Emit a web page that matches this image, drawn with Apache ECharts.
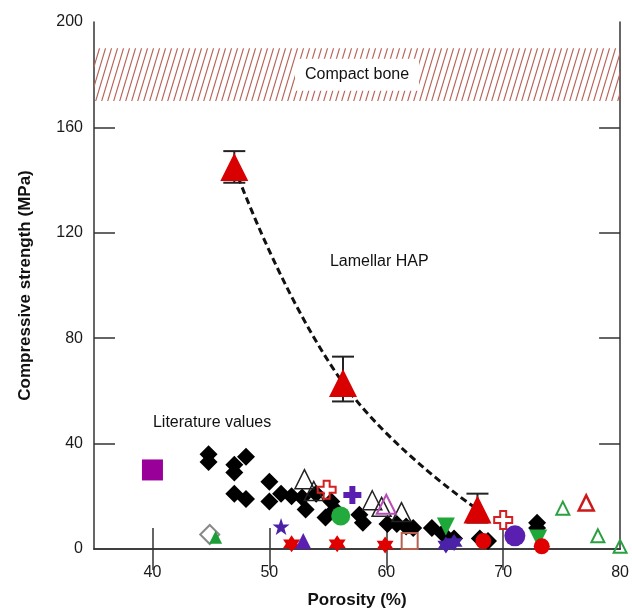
<!DOCTYPE html>
<html>
<head>
<meta charset="utf-8">
<script src="https://cdn.jsdelivr.net/npm/echarts@6/dist/echarts.min.js"></script>
<style>
  html, body { margin: 0; padding: 0; background: #fff; }
  #chart { width: 632px; height: 614px; }
</style>
</head>
<body>
<div id="chart"></div>
<script>
// tick labels
const xTicks = [40, 50, 60, 70, 80];
const yTicks = [0, 40, 80, 120, 160, 200];

// compact bone band (MPa)
const boneBand = [170, 190];

// lamellar HAP: [porosity, strength] and [porosity, low, high]
const lamellar = [[47, 145], [56.3, 63], [67.8, 15]];
const lamellarErr = [[47, 139, 151], [56.3, 56, 73], [67.8, 10, 21]];

// literature values
const blackDiamonds = [[44.8, 36], [44.8, 33], [47, 32], [47, 29], [48, 35], [47, 21], [48, 19],
  [50, 25.5], [50, 18], [51, 21], [51.9, 20], [52.8, 19.5], [53.1, 15], [54, 21], [55.3, 18],
  [54.8, 12], [55.6, 15], [57.7, 13], [58, 10], [60.1, 9.5], [60.9, 9.5], [61.7, 8.5], [62.3, 8],
  [63.9, 8], [64.8, 6], [65.8, 4], [68, 4], [68.7, 3], [72.9, 10], [72.9, 8]];
const openTriangles = [[53, 26.5], [53.8, 22], [58.8, 18.5], [59.6, 16], [61.3, 14]];
const magentaOpenTriangles = [[60, 17]];
const redOpenCross = [[54.9, 22.5], [70, 11]];
const purpleCross = [[57.1, 20.5]];
const greenCircle = [[56.1, 12.5]];
const purpleStar = [[51, 8.5]];
const redStars = [[51.9, 2], [55.8, 2], [59.9, 1.5]];
const purpleStars = [[65.1, 1.5], [65.8, 2.5]];
const purpleTriangle = [[52.9, 3]];
const openSquare = [[62, 3]];
const greenDownTriangles = [[65.1, 8.5], [73, 4]];
const redCircles = [[68.3, 3], [73.3, 1]];
const purpleCircle = [[71, 5]];
const greenOpenTriangles = [[75.1, 15.5], [78.1, 5], [80, 1]];
const redOpenTriangle = [[77.1, 17.5]];
const grayOpenDiamond = [[44.9, 5.5]];
const greenTriangle = [[45.4, 4.5]];
const magentaSquare = [[40, 30]];

// text annotations [x, y, text]
const notes = [[59.4, 109, 'Lamellar HAP'], [45.1, 48, 'Literature values']];

const star6 = 'path://M0,-10L2.9,-5L8.66,-5L5.8,0L8.66,5L2.9,5L0,10L-2.9,5L-8.66,5L-5.8,0L-8.66,-5L-2.9,-5Z';
const star5 = 'path://M0,-10L2.35,-3.1L9.5,-3.1L3.8,1.2L5.9,8.1L0,4L-5.9,8.1L-3.8,1.2L-9.5,-3.1L-2.35,-3.1Z';
const plus = 'path://M-3,-9L3,-9L3,-3L9,-3L9,3L3,3L3,9L-3,9L-3,3L-9,3L-9,-3L-3,-3Z';

// hatch pattern for the band
const hatch = document.createElement('canvas');
hatch.width = 6; hatch.height = 20;
const hctx = hatch.getContext('2d');
hctx.strokeStyle = '#b8655a';
hctx.lineWidth = 1.2;
hctx.beginPath();
[-6, 0, 6].forEach(function (dx) { hctx.moveTo(dx, 20); hctx.lineTo(dx + 6, 0); });
hctx.stroke();

const FONT = 'Liberation Sans, Arial, sans-serif';

function filled(name, data, symbol, size, color, extra) {
  return Object.assign({
    name: name, type: 'scatter', data: data, symbol: symbol, symbolSize: size,
    itemStyle: { color: color, opacity: 1 }
  }, extra || {});
}
function open(name, data, symbol, size, color, bw) {
  return {
    name: name, type: 'scatter', data: data, symbol: symbol, symbolSize: size,
    itemStyle: { color: 'rgba(255,255,255,0)', borderColor: color, borderWidth: bw || 1.5, opacity: 1 }
  };
}

const chart = echarts.init(document.getElementById('chart'));

const tickStyle = { inside: true, length: 21, lineStyle: { color: '#333', width: 1.5 } };
const lineStyle = { show: true, lineStyle: { color: '#333', width: 1.5 } };

chart.setOption({
  animation: false,
  backgroundColor: '#fff',
  grid: { left: 94, right: 10, top: 22, bottom: 65 },
  xAxis: [{
    type: 'value', min: 35, max: 80, position: 'bottom',
    name: 'Porosity (%)', nameLocation: 'middle', nameGap: 43,
    nameTextStyle: { fontFamily: FONT, fontSize: 17, fontWeight: 'bold', color: '#111' },
    axisLine: lineStyle, splitLine: { show: false },
    axisTick: Object.assign({ customValues: xTicks.slice(0, 4) }, tickStyle),
    axisLabel: { customValues: xTicks, margin: 16, fontFamily: FONT, fontSize: 16, color: '#1a1a1a' }
  }, {
    type: 'value', min: 35, max: 80, position: 'top',
    axisLine: lineStyle, splitLine: { show: false },
    axisTick: Object.assign({ customValues: xTicks.slice(0, 4) }, tickStyle),
    axisLabel: { show: false }
  }],
  yAxis: [{
    type: 'value', min: 0, max: 200, position: 'left',
    name: 'Compressive strength (MPa)', nameLocation: 'middle', nameGap: 60,
    nameTextStyle: { fontFamily: FONT, fontSize: 17, fontWeight: 'bold', color: '#111' },
    axisLine: lineStyle, splitLine: { show: false },
    axisTick: Object.assign({ customValues: yTicks.slice(1, 5) }, tickStyle),
    axisLabel: { customValues: yTicks, margin: 11, fontFamily: FONT, fontSize: 16, color: '#1a1a1a' }
  }, {
    type: 'value', min: 0, max: 200, position: 'right',
    axisLine: lineStyle, splitLine: { show: false },
    axisTick: Object.assign({ customValues: yTicks.slice(1, 5) }, tickStyle),
    axisLabel: { show: false }
  }],
  series: [
    {
      name: 'band', type: 'line', data: [], silent: true,
      markArea: {
        silent: true,
        itemStyle: { color: { image: hatch, repeat: 'repeat' }, opacity: 1 },
        label: {
          show: true, position: 'inside', formatter: 'Compact bone',
          backgroundColor: '#fff', padding: [8, 10],
          fontFamily: FONT, fontSize: 16, color: '#111'
        },
        data: [[{ yAxis: boneBand[0] }, { yAxis: boneBand[1] }]]
      }
    },
    {
      name: 'notes', type: 'scatter', symbolSize: 0, silent: true,
      data: notes.map(function (n) { return { value: [n[0], n[1]], name: n[2] }; }),
      label: {
        show: true, position: 'inside', formatter: '{b}',
        fontFamily: FONT, fontSize: 16, color: '#111'
      },
      itemStyle: { opacity: 1 }
    },
    filled('magenta square', magentaSquare, 'rect', 21, '#990099'),
    open('gray diamond', grayOpenDiamond, 'diamond', 19, '#888', 2),
    filled('green triangle', greenTriangle, 'triangle', 13, '#1a9e35'),
    filled('black diamonds', blackDiamonds, 'diamond', 18, '#000'),
    open('open triangles', openTriangles, 'triangle', 19, '#222', 1.5),
    open('magenta triangles', magentaOpenTriangles, 'triangle', 19, '#b84cb8', 2),
    open('red cross', redOpenCross, plus, 18, '#d42020', 2),
    filled('purple cross', purpleCross, plus, 18, '#5a1fb0'),
    filled('green circle', greenCircle, 'circle', 19, '#22aa3c'),
    filled('purple star', purpleStar, star5, 17, '#4a22a8'),
    filled('red stars', redStars, star6, 17, '#e00000'),
    filled('purple stars', purpleStars, star6, 17, '#4a22a8'),
    filled('purple triangle', purpleTriangle, 'triangle', 16, '#5a1fb0'),
    open('open square', openSquare, 'rect', 16, '#b5604f', 2),
    filled('green down', greenDownTriangles, 'triangle', 18, '#1ea83a', { symbolRotate: 180 }),
    filled('red circles', redCircles, 'circle', 16, '#e00000'),
    filled('purple circle', purpleCircle, 'circle', 21, '#5a1fb0'),
    open('green open triangles', greenOpenTriangles, 'triangle', 13, '#2aa040', 2),
    open('red open triangle', redOpenTriangle, 'triangle', 15, '#cc1a1a', 2.5),
    {
      name: 'fit', type: 'line', data: lamellar, smooth: 0.45, showSymbol: false, silent: true,
      lineStyle: { color: '#111', width: 3, type: [7, 4] }, z: 4
    },
    {
      name: 'error', type: 'custom', data: lamellarErr, z: 5,
      renderItem: function (params, api) {
        const x = api.value(0);
        const lo = api.coord([x, api.value(1)]);
        const hi = api.coord([x, api.value(2)]);
        const w = 11;
        const st = { stroke: '#222', lineWidth: 2 };
        return {
          type: 'group',
          children: [
            { type: 'line', shape: { x1: lo[0], y1: lo[1], x2: hi[0], y2: hi[1] }, style: st },
            { type: 'line', shape: { x1: hi[0] - w, y1: hi[1], x2: hi[0] + w, y2: hi[1] }, style: st },
            { type: 'line', shape: { x1: lo[0] - w, y1: lo[1], x2: lo[0] + w, y2: lo[1] }, style: st }
          ]
        };
      }
    },
    filled('Lamellar HAP', lamellar, 'triangle', 28, '#d80000', { z: 6 })
  ]
});
</script>
</body>
</html>
